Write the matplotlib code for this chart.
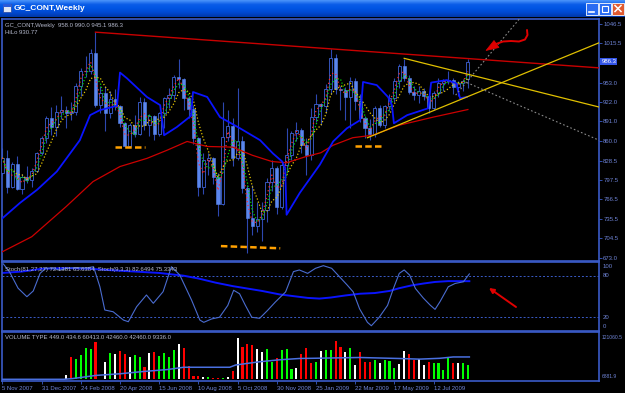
import numpy as np
import pandas as pd
import matplotlib
matplotlib.use("Agg")
import matplotlib.pyplot as plt
from matplotlib.patches import Rectangle, Polygon
from matplotlib.colors import LinearSegmentedColormap

plt.rcParams.update(
    {
        "font.family": ["Liberation Sans", "DejaVu Sans"],
        "font.size": 4.3,
    }
)

W, H = 625, 393

# weekly bars, 5 Nov 2007 .. 31 Aug 2009
bar_open = [808, 833, 787, 823, 783, 803, 798, 812, 841, 864,
            896, 882, 906, 910, 905, 906, 947, 972, 972, 1000,
            918, 937, 904, 926, 915, 888, 852, 886, 871, 922,
            885, 899, 871, 904, 928, 933, 962, 958, 928, 911,
            864, 786, 829, 833, 803, 759, 866, 884, 833, 859,
            784, 737, 724, 735, 749, 795, 816, 754, 822, 838,
            872, 878, 854, 838, 898, 919, 915, 942, 993, 942,
            941, 930, 955, 923, 896, 880, 871, 912, 885, 915,
            928, 955, 980, 960, 938, 933, 940, 931, 913, 937,
            953, 955, 957, 946, 953, 958]
bar_high = [848, 845, 826, 836, 807, 820, 816, 842, 868, 900,
            914, 918, 932, 915, 922, 953, 976, 995, 1006, 1033,
            948, 948, 940, 942, 917, 890, 888, 902, 930, 928,
            903, 902, 906, 930, 945, 965, 990, 960, 932, 917,
            866, 841, 840, 835, 808, 922, 909, 896, 945, 868,
            790, 790, 762, 763, 800, 830, 820, 828, 880, 876,
            890, 880, 865, 912, 935, 920, 950, 1007, 998, 948,
            946, 962, 960, 935, 900, 895, 916, 917, 918, 935,
            960, 982, 990, 965, 947, 947, 944, 935, 940, 960,
            959, 972, 960, 955, 958, 990]
bar_low = [806, 776, 785, 781, 775, 793, 786, 810, 838, 857,
           870, 867, 895, 880, 893, 902, 932, 962, 966, 914,
           904, 875, 896, 910, 882, 850, 850, 866, 870, 878,
           867, 862, 868, 880, 912, 925, 945, 910, 897, 855,
           772, 775, 805, 791, 740, 757, 860, 820, 830, 776,
           681, 710, 715, 700, 730, 780, 744, 752, 810, 830,
           860, 840, 805, 830, 890, 885, 904, 935, 935, 910,
           894, 880, 910, 890, 865, 862, 866, 882, 880, 908,
           922, 945, 955, 935, 925, 920, 925, 905, 910, 930,
           940, 950, 935, 931, 940, 945.1]
bar_close = [833, 787, 823, 783, 803, 798, 812, 841, 864, 896,
             882, 906, 910, 905, 906, 947, 972, 972, 1000, 918,
             937, 904, 926, 915, 888, 852, 886, 871, 922, 885,
             899, 871, 904, 928, 933, 962, 958, 928, 911, 864,
             786, 829, 833, 803, 759, 866, 884, 833, 859, 784,
             737, 724, 735, 749, 795, 816, 754, 822, 838, 872,
             878, 854, 838, 898, 919, 915, 942, 993, 942, 941,
             930, 955, 923, 896, 880, 871, 912, 885, 915, 928,
             955, 980, 960, 938, 933, 940, 931, 913, 937, 953,
             955, 957, 946, 953, 955, 986.3]

volume = [600, 600, 600, 600, 600, 600, 600, 600, 600, 600, 600, 600, 600,
          11400, 65800, 59100, 71500, 92400, 87700, 108600, 1900, 51500, 76200,
          73400, 82900, 73400, 63900, 70500, 66700, 35300, 76200, 80000, 68600,
          78100, 66700, 84800, 104800, 92400, 40000, 9500, 9500, 6700, 6700,
          4800, 4800, 4800, 6700, 25700, 121060, 94300, 104800, 102000, 89600,
          80000, 89600, 49600, 62000, 85800, 89600, 30500, 33400, 73400, 92400,
          47700, 51500, 82900, 84800, 85800, 111500, 95300, 80000, 92400, 42900,
          80000, 51500, 51500, 57200, 47700, 57200, 54300, 33400, 44800, 82900,
          73400, 57200, 59100, 41900, 51500, 47000, 47000, 27000, 63000, 47000,
          47000, 47000, 42460]
volume_type = list("rgwrgwgrgwrgr"
                   "wrggggrrwg"
                   "wrrwggrwrg"
                   "gggwrrrrwg"
                   "rrgwrwrrrw"
                   "wggrgggwrr"
                   "rgwggrrwgw"
                   "rrrgwgggww"
                   "rrwwrggggr"
                   "wgg")

# indicator lines, read as (week, value)
ma_weeks = [0, 6, 13, 18.5, 24, 29.5, 33.6, 37.7, 41.8, 47, 51, 55, 58, 62, 65,
            67.5, 71.5, 75.6, 81, 88, 95]
ma_vals = [683, 707, 755, 795, 819, 832, 845, 859, 851, 850, 837, 827, 825, 835,
           841, 853, 865, 869, 885, 898, 910]

hilo_weeks = [-0.5, 3.6, 7.1, 11.1, 15.8, 17.9, 19.9, 23.4, 24, 25.4, 29.5, 32.2,
              33, 35.6, 37.7, 38.5, 38.9, 41.8, 44.4, 48.5, 52.6, 55.2, 57.1,
              57.7, 58, 60.7, 64.8, 67.5, 70.3, 73, 73.6, 76.4, 78.7, 79.5,
              79.9, 82.6, 86.9, 87.5, 90.7, 92.6, 93.4, 94.8]
hilo_vals = [733, 761, 782, 811, 861, 901, 909, 916, 969, 960, 930, 917,
             869, 882, 895, 900, 938, 930, 898, 880, 861, 840, 827,
             817, 742, 777, 822, 859, 880, 893, 954, 949, 930, 917,
             888, 901, 912, 953, 957, 952, 928, 930]

stoch_fast_w = [0.2, 1.5, 3.2, 5, 6.3, 7.7, 8.9, 10.1, 11.7, 13.4, 15, 17, 18.6,
                19.9, 20.9, 22.6, 24.7, 25.7, 27.4, 29.4, 30.8, 32.8, 34.5, 36.2,
                38.6, 40.3, 41.1, 42.7, 44.3, 46, 47.2, 48.4, 49.6, 50.9, 52.5,
                54.1, 55.7, 57.8, 59.4, 60.6, 62.3, 63.9, 65.5, 67.2, 68.8, 70.4,
                71.6, 72.9, 74.5, 75.3, 76.9, 78.6, 79.8, 81, 82, 83.1, 84.3,
                85.9, 87.3, 88.3, 89.3, 91, 92.4, 94.1, 95.3]
stoch_fast_v = [97, 85, 62, 49.7, 58, 83.5, 91, 90.7, 88.3, 90.7, 91.7, 91, 93,
                64, 30.5, 28, 16, 13.6, 35.3, 52.2, 40.2, 57, 93, 81,
                45, 16, 12.7, 17.6, 20, 37.1, 59, 54, 37.1, 20, 18.5,
                29.8, 42, 56.6, 85.9, 88.3, 83.4, 90.7, 94.5, 90.7, 78.5, 66.3,
                56.6, 32.2, 12.7, 7.8, 20, 37.1, 61.5, 83.4, 88.3, 81, 61.5,
                47.8, 37.6, 31.4, 42.4, 64, 68.8, 71.3, 82.6]
stoch_slow_w = [0, 4, 8, 13, 18, 22, 27, 32, 37, 40, 43.5, 47, 50, 53, 56.6, 60,
                62.3, 64.7, 67, 70, 73, 76, 79, 81, 83.5, 86, 88.3, 91, 95.3]
stoch_slow_v = [84, 86, 90, 91, 90, 88, 86, 84, 80, 76, 70, 65, 61.5, 58, 53, 50,
                48, 47, 48.5, 51.5, 54, 55, 58, 62, 66, 68.8, 71, 72.2, 72.1]

vol_avg_w = [-0.5, 12.5, 14.2, 19.1, 24, 28.8, 33.7, 37, 46.4, 47.6, 52.5, 56.6,
             60.6, 64.7, 72.9, 81, 85.1, 89.2, 92, 95.3]
vol_avg_v = [0, 0, 1900, 11400, 16200, 22900, 28600, 35300, 35300, 41900, 51500,
             57200, 61000, 61900, 63900, 61000, 59100, 61500, 65500, 65500]

price_ticks = [1046.5, 1015.5, 953.0, 922.0, 891.0, 860.0, 828.5, 797.5, 766.5,
               735.5, 704.5, 673.0]
date_ticks = [0, 8, 16, 24, 32, 40, 48, 56, 64, 72, 80, 88]
date_labels = ["5 Nov 2007", "31 Dec 2007", "24 Feb 2008", "20 Apr 2008",
               "15 Jun 2008", "10 Aug 2008", "5 Oct 2008", "30 Nov 2008",
               "25 Jan 2009", "22 Mar 2009", "17 May 2009", "12 Jul 2009"]

# colours
FRAME = "#3a5bc8"
LABEL = "#6f84d6"
HEAD = "#b4b8cc"


def px(x0, y0, x1, y1):
    return [x0 / W, 1 - y1 / H, (x1 - x0) / W, (y1 - y0) / H]


def style(ax):
    ax.set_facecolor("black")
    for s in ax.spines.values():
        s.set_color(FRAME)
        s.set_linewidth(1.2)
    ax.set_xlim(-0.08, 121.76)
    ax.yaxis.tick_right()
    ax.tick_params(axis="y", colors=FRAME, labelcolor=LABEL, length=2,
                   width=0.6, pad=1, labelsize=4.3)
    ax.tick_params(axis="x", bottom=False, labelbottom=False)


fig = plt.figure(figsize=(W / 100, H / 100), dpi=100, facecolor="black")

# ---- title bar
ax_t = fig.add_axes(px(0, 0, W, 17))
grad = LinearSegmentedColormap.from_list(
    "xp", ["#4a93fa", "#0a5ce8", "#0055e3", "#0048d0", "#0038a8"])
ax_t.imshow(np.linspace(0, 1, 32)[:, None], aspect="auto", cmap=grad,
            extent=(0, W, 17, 0))
ax_t.set_xlim(0, W)
ax_t.set_ylim(17, 0)
ax_t.axis("off")
ax_t.add_patch(Rectangle((3, 4), 8, 8, fc="#dfe6f5", ec="#2040a0", lw=0.5))
ax_t.add_patch(Rectangle((3, 4), 8, 2.5, fc="#2a5ad8", ec="none"))
ax_t.text(14, 8.5, "GC_CONT,Weekly", color="white", fontsize=6, weight="bold",
          va="center", ha="left")
for bx, fc in [(586, "#2a6cf2"), (599, "#2a6cf2"), (612, "#e05a30")]:
    ax_t.add_patch(Rectangle((bx, 2.5), 11.5, 12, fc=fc, ec="white", lw=0.6))
ax_t.plot([589, 594], [11.5, 11.5], color="white", lw=1.2)
ax_t.add_patch(Rectangle((601.5, 5.5), 6.5, 6, fc="none", ec="white", lw=0.8))
ax_t.plot([615, 621], [5.5, 11.5], color="white", lw=1.1)
ax_t.plot([615, 621], [11.5, 5.5], color="white", lw=1.1)

# ---- price panel
ax = fig.add_axes(px(2, 19, 599, 261))
style(ax)
ax.set_ylim(668.2, 1054.5)
ax.set_yticks(price_ticks)
ax.set_yticklabels([f"{v:.1f}" for v in price_ticks])

weeks = np.arange(len(bar_close))
o = np.array(bar_open)
c = np.array(bar_close)
up = c >= o
ax.vlines(weeks, bar_low, bar_high, color="#2d48b0", lw=0.8, zorder=2)
ax.bar(weeks[up], (c - o)[up], bottom=o[up], width=0.62, color="black",
       edgecolor="#3d62d6", linewidth=0.6, zorder=3)
ax.bar(weeks[~up], (o - c)[~up], bottom=c[~up], width=0.62, color="#5a86ee",
       edgecolor="#5a86ee", linewidth=0.4, zorder=3)

close_s = pd.Series(bar_close)
ax.plot(weeks, close_s.rolling(5, min_periods=1).mean(), color="#e8c800",
        lw=0.9, ls=(0, (1, 1.6)), zorder=4)
ax.plot(weeks, close_s.rolling(3, min_periods=1).mean(), color="#00d800",
        lw=0.9, ls=(0, (1, 1.6)), zorder=4)
ax.plot(weeks, close_s.rolling(2, min_periods=1).mean(), color="#ff2a2a",
        lw=0.9, ls=(0, (1, 2.2)), zorder=4)

ax.plot(ma_weeks, ma_vals, color="#cc0000", lw=0.9, zorder=4)
ax.plot(hilo_weeks, hilo_vals, color="#0a14ff", lw=1.3, zorder=5)

# trend lines
ax.plot([19, 121.76], [1033.5, 976.5], color="#c80000", lw=1.0, zorder=5)
ax.plot([82, 121.76], [991.7, 914.0], color="#e0c000", lw=0.9, zorder=5)
ax.plot([74.5, 121.76], [865.0, 1016.5], color="#e0c000", lw=0.9, zorder=5)
ax.plot([92.5, 105.5], [933, 1054.5], color="#8a8a8a", lw=0.8,
        ls=(0, (1.5, 2)), zorder=5)
ax.plot([94.8, 121.76], [953, 861], color="#8a8a8a", lw=0.8,
        ls=(0, (1.5, 2)), zorder=5)

# support marks
for xs, ys in [([22.9, 29.2], [849.6, 849.6]), ([44.6, 56.7], [692, 688.5]),
               ([72.0, 77.4], [852, 852])]:
    ax.plot(xs, ys, color="#ffa000", lw=1.8, ls=(0, (2.6, 1.3)),
            solid_capstyle="butt", zorder=6)

ax.text(1.004, 986.3, "986.3", transform=ax.get_yaxis_transform(),
        color="white", fontsize=4.3, va="center", ha="left",
        bbox=dict(boxstyle="square,pad=0.15", fc="#3355e8", ec="none"))
ax.text(0.005, 0.985, "GC_CONT,Weekly  958.0 990.0 945.1 986.3",
        transform=ax.transAxes, color=HEAD, fontsize=4.3, va="top")
ax.text(0.005, 0.955, "HiLo 930.77", transform=ax.transAxes, color=HEAD,
        fontsize=4.3, va="top")

# ---- stochastic panel
ax_s = fig.add_axes(px(2, 262, 599, 331))
style(ax_s)
ax_s.set_ylim(0.2, 99.8)
ax_s.set_yticks([])
for lvl in (80, 20):
    ax_s.axhline(lvl, color=FRAME, lw=0.7, ls=(0, (2, 2)))
ax_s.plot(stoch_slow_w, stoch_slow_v, color="#0a14ff", lw=1.4)
ax_s.plot(stoch_fast_w, stoch_fast_v, color="#4a6cd0", lw=0.8)
for val, lab in [(94, "100"), (80, "80"), (20, "20"), (6, "0")]:
    ax_s.text(1.006, val, lab, transform=ax_s.get_yaxis_transform(),
              color=LABEL, fontsize=4.3, va="center", ha="left")
ax_s.text(0.005, 0.93,
          "Stoch(81,27,27) 72.1381 65.6384  Stoch(9,3,3) 82.6494 75.3343",
          transform=ax_s.transAxes, color=HEAD, fontsize=4.3, va="top")

# ---- volume panel
ax_v = fig.add_axes(px(2, 332, 599, 381))
style(ax_v)
ax_v.set_ylim(-4983, 138645)
ax_v.set_yticks([])
cmap = {"r": "#ff0000", "g": "#00ff00", "w": "#ffffff"}
ax_v.bar(weeks, volume, width=0.42, color=[cmap[t] for t in volume_type],
         zorder=2)
ax_v.plot(vol_avg_w, vol_avg_v, color="#4a70e0", lw=1.1, zorder=3)
for val, lab in [(121060.5, "121060.5"), (6881.9, "6881.9")]:
    ax_v.text(1.004, val, lab, transform=ax_v.get_yaxis_transform(),
              color=LABEL, fontsize=3.6, va="center", ha="left")
ax_v.text(0.005, 0.93,
          "VOLUME TYPE 449.0 434.6 60413.0 42460.0 42460.0 9336.0",
          transform=ax_v.transAxes, color=HEAD, fontsize=4.3, va="top")
ax_v.set_xticks(date_ticks)
ax_v.set_xticklabels(date_labels, ha="left")
ax_v.tick_params(axis="x", bottom=True, labelbottom=True, colors=FRAME,
                 labelcolor=LABEL, length=2, width=0.6, pad=1.5, labelsize=4.3)

# ---- hand-drawn arrows
ax_o = fig.add_axes([0, 0, 1, 1], zorder=10)
ax_o.set_xlim(0, W)
ax_o.set_ylim(H, 0)
ax_o.axis("off")
ax_o.patch.set_alpha(0)
ax_o.plot([527, 527.5, 525, 519, 511, 503, 496], [30, 35, 39.5, 41.5, 41, 41.5, 44],
          color="#e00000", lw=1.4, solid_capstyle="round")
ax_o.add_patch(Polygon([[486, 50.5], [494, 40.5], [499, 47.5]], closed=True,
                       fc="#e00000", ec="#e00000", lw=0.5))
ax_o.annotate("", xy=(489, 288), xytext=(516, 307),
              arrowprops=dict(arrowstyle="-|>", color="#e00000", lw=1.4,
                              mutation_scale=7, shrinkA=0, shrinkB=0))

fig.savefig("out.png", dpi=100, facecolor="black")
